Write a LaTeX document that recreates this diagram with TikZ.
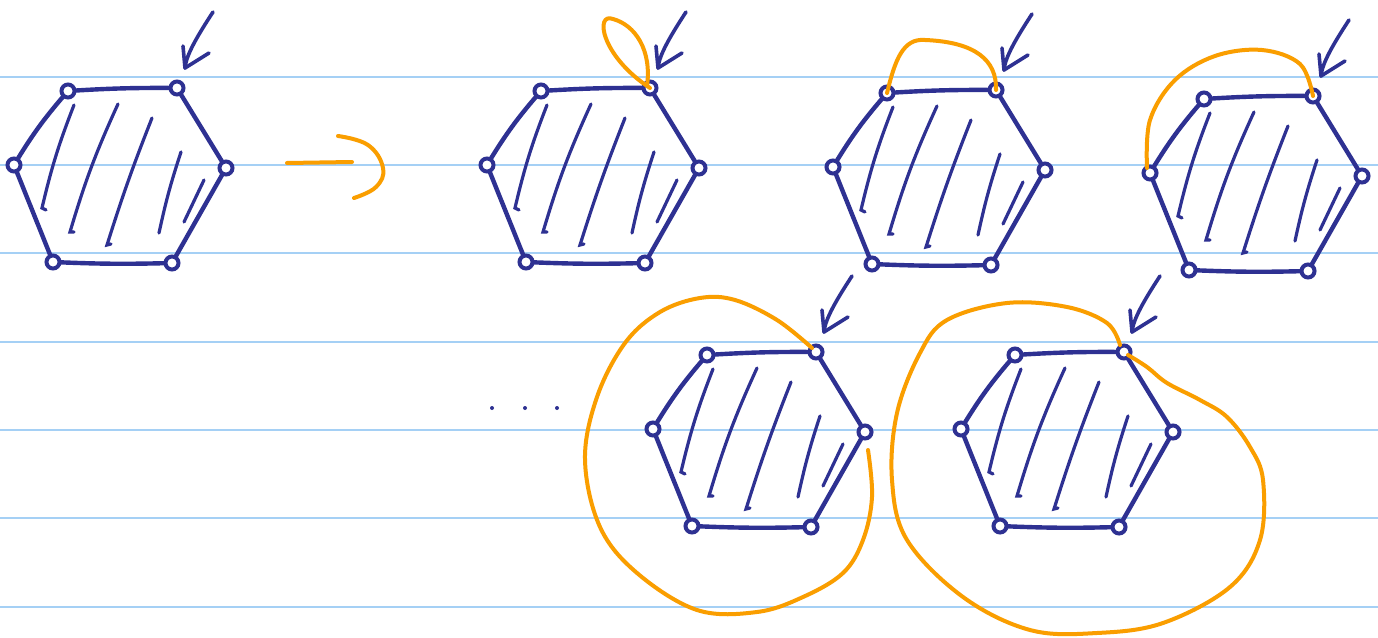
\documentclass[tikz,border=0pt]{standalone}
\usetikzlibrary{calc}
\definecolor{ink}{RGB}{46,49,146}
\definecolor{hl}{RGB}{250,158,0}
\definecolor{rule}{RGB}{165,208,245}
\tikzset{
  edge/.style={draw=ink,line width=4.4pt,line cap=round,line join=round},
  hatch/.style={draw=ink,line width=3.2pt,line cap=round},
  vmark/.style={draw=ink,line width=4pt,fill=white},
  pointer/.style={draw=ink,line width=3.6pt,line cap=round,line join=round},
  loopline/.style={draw=hl,line width=4pt,line cap=round,line join=round},
  ruleline/.style={draw=rule,line width=2pt}
}
\newcommand{\hexfig}[3]{%
\begin{scope}[shift={(#1,#2)}]
  \coordinate (#3a) at (68,91);
  \coordinate (#3b) at (177,88);
  \coordinate (#3c) at (226,168);
  \coordinate (#3d) at (172,263);
  \coordinate (#3e) at (53,262);
  \coordinate (#3f) at (14,165);
  \draw[edge] (#3a) to[bend left=2] (#3b) -- (#3c) -- (#3d) to[bend left=2] (#3e) -- (#3f) to[bend left=5] (#3a);
  \draw[hatch] (74,105) to[bend right=4] (42,208) -- (46,210);
  \draw[hatch] (118,104) to[bend right=4] (70,232) -- (74,232);
  \draw[hatch] (152,118) to[bend right=2] (107,245) -- (111,244);
  \draw[hatch] (181,152) to[bend right=3] (159,233);
  \draw[hatch] (204,180) -- (184,222);
  \foreach \v in {a,b,c,d,e,f} {\draw[vmark] (#3\v) circle (6.5);}
  \coordinate (#3t) at (213,12);
  \coordinate (#3p) at (185,68);
  \draw[pointer] (#3t) .. controls (198,35) and (186,55) .. (#3p);
  \draw[pointer] (183,46) -- (#3p) -- (209,53);
\end{scope}}
\begin{document}
\begin{tikzpicture}[x=1pt,y=-1pt]
\useasboundingbox[fill=white] (0,0) rectangle (1378,637);
\foreach \yy in {76.5,165,253.3,341.6,430,518,606.5}
  {\draw[ruleline] (0,\yy) -- (1378,\yy);}
% figures
\hexfig{0}{0}{h1}
\hexfig{473}{0}{h2}
\hexfig{819}{2}{h3}
\hexfig{1136}{8}{h4}
\hexfig{639}{264}{h5}
\hexfig{947}{264}{h6}
% transition symbol
\coordinate (s1) at (287,163);
\coordinate (s2) at (352,162);
\draw[loopline] (s1) -- (s2);
\draw[loopline] plot[smooth,tension=0.7] coordinates {(338,136) (368,145) (383,168) (376,187) (354,198)};
% dots
\foreach \dx [count=\i] in {492,525,557} {\fill[ink] (\dx,408) circle (2) coordinate (dot\i);}
% orange loops
\draw[loopline] (h2b) .. controls (600,55) and (595,12) .. (613,19) .. controls (635,25) and (652,50) .. (647,86);
\draw[loopline] (h3a) .. controls (895,60) and (903,38) .. (925,40) .. controls (975,42) and (997,60) .. (h3b);
\draw[loopline] plot[smooth,tension=0.6] coordinates {(1147,168) (1150,120) (1175,80) (1215,56) (1262,50) (1300,64) (1313,96)};
\draw[loopline] plot[smooth,tension=0.6] coordinates {(812,348) (777,320) (735,300) (700,298) (660,312) (625,343) (597,397) (585,460) (600,527) (637,573) (697,610) (757,612) (803,597) (843,573) (863,540) (872,497) (868,450)};
\draw[loopline] plot[smooth,tension=0.6] coordinates {(1120,345) (1107,323) (1067,307) (1007,303) (947,320) (920,353) (897,413) (892,480) (907,540) (963,597) (1030,630) (1097,633) (1163,623) (1230,587) (1260,540) (1263,480) (1250,447) (1227,417) (1200,400) (1167,383) (1147,367) (1128,355)};
\end{tikzpicture}
\end{document}
